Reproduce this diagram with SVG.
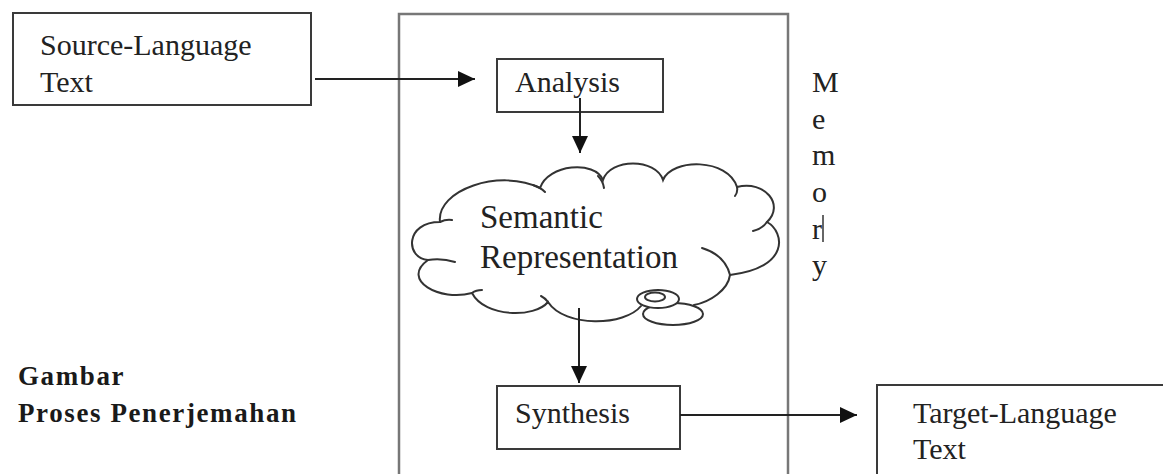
<svg xmlns="http://www.w3.org/2000/svg" width="1163" height="474" viewBox="0 0 1163 474">
<style>
.box{fill:#fff;stroke:#3a3a3a;stroke-width:2}
.mem{fill:none;stroke:#777;stroke-width:2.5}
.t{font-family:"Liberation Serif","Times New Roman",serif;font-size:30px;fill:#222}
.big{font-size:33px}
.b{font-family:"Liberation Serif","Times New Roman",serif;font-size:27px;font-weight:bold;fill:#1a1a1a;letter-spacing:1.6px}
.cl{fill:none;stroke:#333;stroke-width:2;stroke-linecap:round}
.el{fill:#fff;stroke:#333;stroke-width:2}
.ar{fill:none;stroke:#222;stroke-width:2}
</style>
<defs>
<marker id="ah" markerUnits="userSpaceOnUse" markerWidth="18" markerHeight="18" refX="17" refY="8" orient="auto">
<path d="M0,0 L17,8 L0,16 Z" fill="#111"/>
</marker>
</defs>
<rect width="1163" height="474" fill="#fff"/>

<g id="memory">
<rect class="mem" x="399" y="14" width="389" height="480"/>
<text class="t" x="812" y="92">M</text>
<text class="t" x="812" y="129">e</text>
<text class="t" x="812" y="165">m</text>
<text class="t" x="812" y="202">o</text>
<text class="t" x="812" y="239">r</text>
<line x1="823" y1="215" x2="823" y2="242" stroke="#333" stroke-width="1.5"/>
<text class="t" x="812" y="275">y</text>
</g>

<g id="source">
<rect class="box" x="13" y="13" width="298" height="92"/>
<text class="t" x="40" y="55">Source-Language</text>
<text class="t" x="40" y="92">Text</text>
</g>

<g id="analysis">
<rect class="box" x="497" y="59" width="166" height="53"/>
<text class="t" x="515" y="92">Analysis</text>
</g>

<g id="semantic">
<path class="cl" d="M440 222 C436 190 500 168 540 188 C548 164 595 160 603 180 C610 158 656 158 663 180 C672 158 728 158 737 187 C765 180 785 205 767 222 C785 232 790 268 730 275 C728 290 710 302 694 305 M641 306 C625 326 565 328 548 302 C535 318 485 318 472 293 C440 302 400 280 428 260 C405 258 405 222 440 222"/>
<path class="cl" d="M428 260 Q442 258 455 262 M440 222 Q446 219 452 220 M533 185 Q540 187 545 192 M598 176 Q603 181 604 188 M737 187 Q738 192 735 196 M767 222 Q762 229 753 231 M702 248 Q725 255 730 275 M548 302 Q545 298 541 296 M472 293 Q476 290 482 290"/>
<ellipse class="el" cx="673" cy="314" rx="30" ry="11"/>
<ellipse class="el" cx="658" cy="299" rx="21" ry="9"/>
<ellipse class="el" cx="655" cy="297" rx="10" ry="4.5"/>
<text class="t big" x="480" y="228">Semantic</text>
<text class="t big" x="480" y="268">Representation</text>
</g>

<g id="synthesis">
<rect class="box" x="497" y="386" width="183" height="63"/>
<text class="t" x="515" y="423">Synthesis</text>
</g>

<g id="target">
<rect class="box" x="877" y="385" width="300" height="100"/>
<text class="t" x="913" y="423">Target-Language</text>
<text class="t" x="913" y="459">Text</text>
</g>

<g id="caption">
<text class="b" x="18" y="385">Gambar</text>
<text class="b" x="18" y="422">Proses Penerjemahan</text>
</g>

<g id="connectors">
<line class="ar" x1="315" y1="79" x2="475" y2="79" marker-end="url(#ah)"/>
<line class="ar" x1="580" y1="98" x2="580" y2="153" marker-end="url(#ah)"/>
<line class="ar" x1="579" y1="308" x2="579" y2="383" marker-end="url(#ah)"/>
<line class="ar" x1="680" y1="415" x2="857" y2="415" marker-end="url(#ah)"/>
</g>
</svg>
